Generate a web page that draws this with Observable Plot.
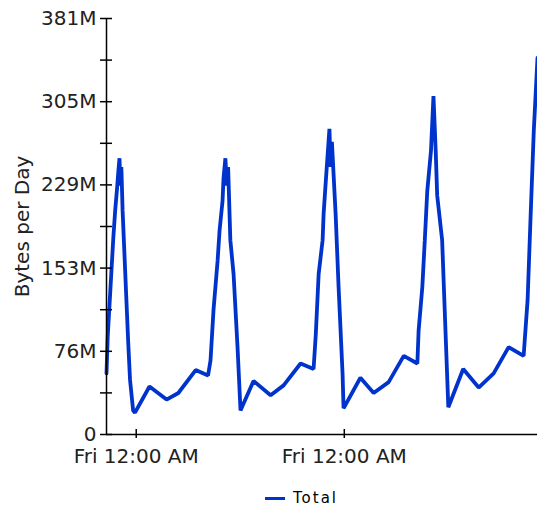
<!DOCTYPE html>
<html>
<head>
<meta charset="utf-8">
<script src="https://cdn.jsdelivr.net/npm/d3@7"></script>
<script src="https://cdn.jsdelivr.net/npm/@observablehq/plot@0.6"></script>
<style>
  html, body { margin: 0; padding: 0; background: #fff; }
  #chart { width: 537px; height: 512px; position: relative; font-family: "DejaVu Sans", sans-serif; }
  #legend { position: absolute; left: 265px; top: 489px; display: flex; align-items: center; font-size: 15px; letter-spacing: 2px; color: #000; }
  #legend .sw { width: 20px; height: 3px; background: #0033cc; margin-right: 8px; }
</style>
</head>
<body>
<div id="chart"></div>
<script>
// hours since start (Thu 12:00 AM)
const hours = [0, 1, 2.5, 4, 5.5, 7, 8.5, 9.5, 10.5, 11.2, 12, 13, 14.5, 16, 17.5, 19, 21.5, 23,
  34.7, 48.5, 58, 72, 82,
  84, 86.4, 89.7, 91.3, 93.7, 94.5, 96, 97.2, 98.2, 100, 102.6, 105.8, 108.2,
  118.7, 132.5, 143, 156.7, 167.2,
  169, 171.3, 174.5, 175.3, 177, 180, 181, 182, 185, 187.4, 190.6, 191.4,
  205, 215.7, 227.8, 240, 251,
  252, 255, 257, 259, 262, 264, 265.8, 267, 271, 274, 276,
  288, 300.5, 312.6, 324.7, 336.8,
  340, 342.5, 345, 348];
// bytes per day, in millions
const bytesM = [56, 90, 120, 150, 180, 205, 225, 240, 253, 228, 245, 205, 165, 125, 85, 50, 22, 20,
  44, 32, 38, 59, 54,
  68, 114, 159, 187, 214, 235, 253, 228, 245, 178, 147, 80, 22,
  49, 36, 45, 65, 60,
  92, 147, 178, 202, 231, 280, 245, 268, 202, 135, 56, 24,
  52, 38, 48, 72, 65,
  95, 135, 178, 223, 260, 310, 260, 219, 178, 86, 25,
  60, 43, 56, 80, 72,
  123, 202, 278, 345];

const yMajorTicks = [0, 76.2, 152.4, 228.6, 304.8, 381];
const yMajorLabels = ["0", "76M", "153M", "229M", "305M", "381M"];
const yMinorTicks = [38.1, 114.3, 190.5, 266.7, 342.9];
const xTicks = [24, 192];
const xTickLabels = ["Fri 12:00 AM", "Fri 12:00 AM"];
const seriesName = "Total";
const yTitle = "Bytes per Day";

const data = hours.map((h, i) => ({h, v: bytesM[i]}));

const plot = Plot.plot({
  width: 537,
  height: 480,
  marginLeft: 106,
  marginRight: 0,
  marginTop: 18,
  marginBottom: 46,
  style: {fontFamily: "DejaVu Sans, sans-serif", fontSize: "20px", color: "#000", background: "#fff"},
  x: {domain: [0, 348]},
  y: {domain: [0, 381]},
  marks: [
    Plot.line(data, {x: "h", y: "v", stroke: "#0033cc", strokeWidth: 3.8, strokeLinejoin: "miter"}),
    Plot.ruleX([0], {stroke: "#000", strokeWidth: 1.5}),
    Plot.ruleY([0], {stroke: "#000", strokeWidth: 1.5}),
    Plot.ruleY(yMajorTicks.concat(yMinorTicks), {y: d => d, x1: 0, x2: 0, insetLeft: -6, insetRight: -6, stroke: "#000", strokeWidth: 1.5}),
    Plot.ruleX(xTicks, {x: d => d, y1: 0, y2: 0, insetTop: -5, insetBottom: -4, stroke: "#000", strokeWidth: 1.5}),
    Plot.axisY({ticks: yMajorTicks, tickFormat: (d) => yMajorLabels[yMajorTicks.indexOf(d)], tickSize: 0, tickPadding: 10, label: null, fill: "#222"}),
    Plot.axisX({ticks: xTicks, tickFormat: (d) => xTickLabels[xTicks.indexOf(d)], tickSize: 0, tickPadding: 14, label: null, fill: "#222"}),
    Plot.text([yTitle], {frameAnchor: "left", textAnchor: "middle", rotate: -90, dx: -84, fontSize: 20, fill: "#222"})
  ]
});
document.getElementById("chart").appendChild(plot);
const leg = document.createElement("div");
leg.id = "legend";
leg.innerHTML = '<div class="sw"></div><span>' + seriesName + '</span>';
document.getElementById("chart").appendChild(leg);
</script>
</body>
</html>
